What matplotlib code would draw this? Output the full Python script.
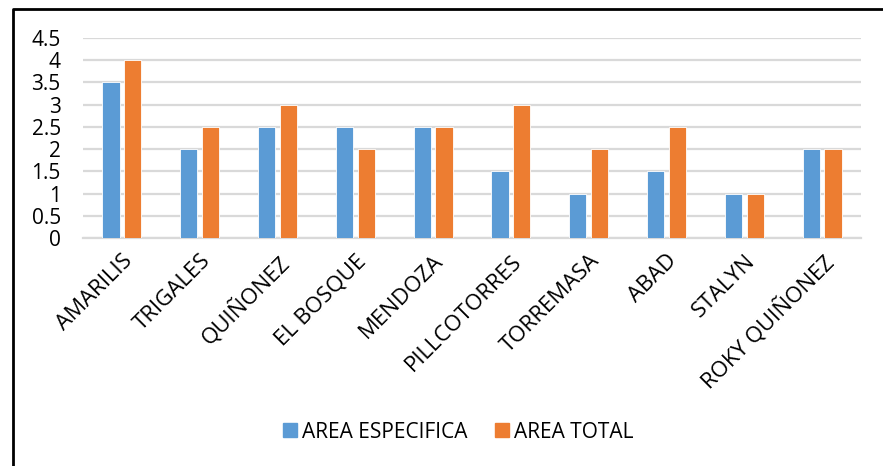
import matplotlib
matplotlib.use('Agg')
import matplotlib.pyplot as plt
import numpy as np
from matplotlib.lines import Line2D
from matplotlib.patches import Patch

categorias = ['AMARILIS', 'TRIGALES', 'QUIÑONEZ', 'EL BOSQUE', 'MENDOZA',
              'PILLCOTORRES', 'TORREMASA', 'ABAD', 'STALYN', 'ROKY QUIÑONEZ']
area_especifica = [3.5, 2, 2.5, 2.5, 2.5, 1.5, 1, 1.5, 1, 2]
area_total = [4, 2.5, 3, 2, 2.5, 3, 2, 2.5, 1, 2]
yticks = [0, 0.5, 1, 1.5, 2, 2.5, 3, 3.5, 4, 4.5]

azul = '#5B9BD5'
naranja = '#ED7D31'

plt.rcParams['font.family'] = ['Open Sans', 'DejaVu Sans']

fig = plt.figure(figsize=(8.83, 4.66), dpi=100)
ax = fig.add_axes([83/883, 1-238/466, (861-83)/883, 200/466])

x = np.arange(len(categorias))
w = 0.22
ax.bar(x-0.14, area_especifica, w, color=azul, edgecolor='white', linewidth=0.6, zorder=3)
ax.bar(x+0.14, area_total, w, color=naranja, edgecolor='white', linewidth=0.6, zorder=3)

ax.set_xlim(-0.5, len(categorias)-0.5)
ax.set_ylim(0, 4.5)
ax.set_yticks(yticks)
ax.set_yticklabels([('%g' % v) for v in yticks], fontsize=15)
ax.yaxis.grid(True, color='#D9D9D9', linewidth=1.6, zorder=0)
ax.set_axisbelow(True)
ax.tick_params(axis='y', length=0, pad=16)
ax.tick_params(axis='x', length=0, pad=9)
ax.set_xticks(x)
ax.set_xticklabels(categorias, rotation=45, ha='right', rotation_mode='anchor', fontsize=16)
for s in ['top', 'right', 'left']:
    ax.spines[s].set_visible(False)
ax.spines['bottom'].set_color('#D9D9D9')
ax.spines['bottom'].set_linewidth(1.6)

# marco
fig.add_artist(Line2D([13/883, 13/883, 1.01], [-0.01, 1-9/466, 1-9/466],
                      transform=fig.transFigure, color='black', linewidth=2))

handles = [Patch(color=azul), Patch(color=naranja)]
fig.legend(handles, ['AREA ESPECIFICA', 'AREA TOTAL'], loc='center',
           bbox_to_anchor=(458/883, 1-432/466), ncol=2, frameon=False,
           fontsize=15, handlelength=0.68, handleheight=0.68,
           handletextpad=0.25, columnspacing=1.3)

plt.savefig('out.png', dpi=100)
plt.close()
